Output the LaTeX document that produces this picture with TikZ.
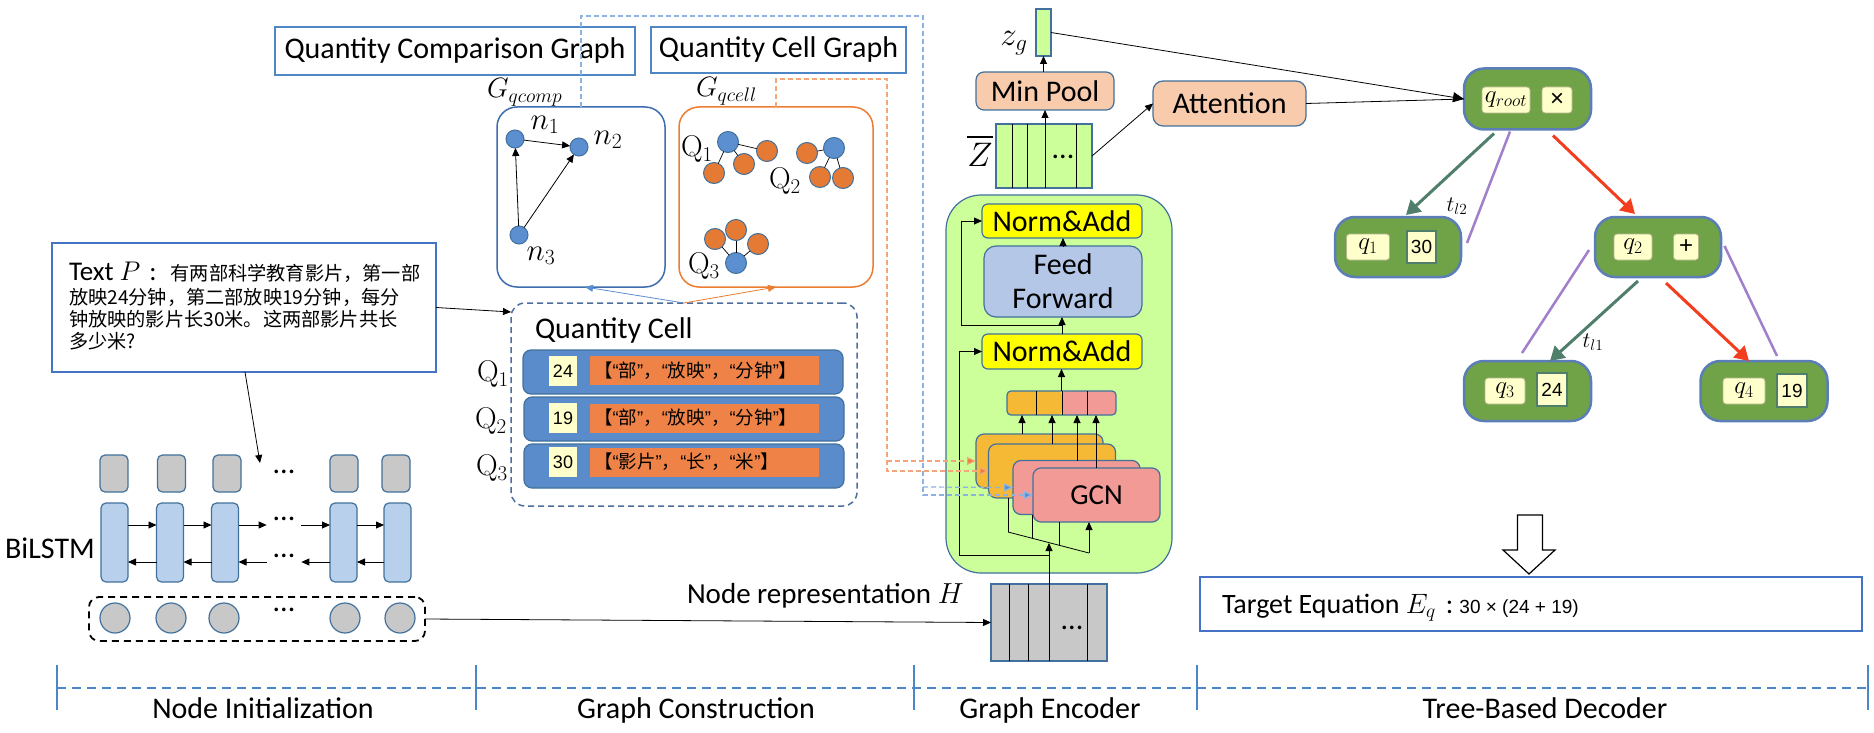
\RequirePackage{fix-cm}
\documentclass[tikz,border=0pt]{standalone}
\usepackage{fontspec}
\setmainfont{Carlito}
\newfontfamily\cjk{Noto Sans CJK SC}
\newfontfamily\arial{Liberation Sans}
\newfontfamily\lmr{Latin Modern Roman}
\usetikzlibrary{arrows.meta,calc}
\definecolor{lblue}{HTML}{4F86C6}
\definecolor{pblue}{HTML}{4472C4}
\definecolor{gblue}{HTML}{3D6DAF}
\definecolor{gorange}{HTML}{ED7D31}
\definecolor{bdr}{HTML}{41719C}
\definecolor{nblue}{HTML}{5B8FD0}
\definecolor{norange}{HTML}{E57A35}
\definecolor{cellbdr}{HTML}{4E6E9E}
\definecolor{rowfill}{HTML}{5A8BCB}
\definecolor{cellor}{HTML}{EF8347}
\definecolor{lyel}{HTML}{FFFFCC}
\definecolor{lstm}{HTML}{B8D0EC}
\definecolor{gry}{HTML}{C8C8C8}
\definecolor{encg}{HTML}{CCFF99}
\definecolor{peach}{HTML}{F8CBAD}
\definecolor{yel}{HTML}{FFFF00}
\definecolor{ffb}{HTML}{B4C7E7}
\definecolor{amber}{HTML}{F6B935}
\definecolor{pinkc}{HTML}{F29A95}
\definecolor{treeg}{HTML}{70A347}
\definecolor{treeb}{HTML}{5B7EB8}
\definecolor{tealc}{HTML}{4F7F6B}
\definecolor{redc}{HTML}{F23D1E}
\definecolor{purp}{HTML}{A07FCB}
\definecolor{dblue}{HTML}{8DB3E2}
\definecolor{dorange}{HTML}{F4A67A}
\definecolor{tline}{HTML}{4A86C8}
\definecolor{qbdr}{HTML}{B5B58A}
\newcommand\setfs[1]{\fontsize{#1}{#1}\selectfont}
\newcommand\oq{{\arial “}}
\newcommand\cq{{\arial ”}}
\newcommand\Qsub[1]{{\lmr Q}$_{#1}$}
\begin{document}
\begin{tikzpicture}[x=1pt,y=-1pt]
\tikzset{
  every node/.style={inner sep=0pt, outer sep=0pt},
  sz/.style 2 args={minimum width=#1, minimum height=#2},
  lbl/.style={font=\setfs{30}},
  arr/.style={line width=0.8pt, -{Triangle[length=8pt,width=7pt]}},
  lblbox/.style={draw=lblue, line width=1.5pt, font=\setfs{30}},
  bcirc/.style={circle, fill=nblue, draw=bdr, line width=1pt, minimum size=18pt},
  ocirc/.style={circle, fill=norange, draw=bdr, line width=1pt, minimum size=21pt},
  ql/.style={font=\setfs{30}},
  rowbox/.style={fill=rowfill, draw=bdr, line width=1.2pt, rounded corners=8pt, sz={320pt}{44pt}},
  numbox/.style={fill=lyel, font=\arial\setfs{18}, sz={28pt}{30pt}},
  orbox/.style={fill=cellor, sz={229pt}{29pt}, text width=221pt, inner xsep=4pt, align=left, font=\cjk\setfs{18.5}},
  cjkline/.style={anchor=base west, font=\cjk\setfs{19.2}},
  gtop/.style={fill=gry, draw=bdr, line width=1.2pt, rounded corners=5pt, sz={28pt}{37pt}},
  lstmbox/.style={fill=lstm, draw=bdr, line width=1.2pt, rounded corners=5pt, sz={27pt}{79pt}},
  gcirc/.style={circle, fill=gry, draw=bdr, line width=1.2pt, minimum size=30pt},
  dotsn/.style={font=\setfs{30}, inner xsep=6pt},
  encbox/.style={draw=bdr, line width=1.2pt},
  gcnor/.style={fill=amber, draw=bdr, line width=1.2pt, rounded corners=8pt, sz={127pt}{54pt}},
  gcnpk/.style={fill=pinkc, draw=bdr, line width=1.2pt, rounded corners=8pt, sz={127pt}{54pt}},
  bdash/.style={draw=dblue, line width=1.2pt, dash pattern=on 5pt off 3pt, -{Triangle[length=9pt,width=8pt,fill=nblue]}},
  odash/.style={draw=dorange, line width=1.2pt, dash pattern=on 5pt off 3pt, -{Triangle[length=9pt,width=8pt,fill=gorange]}},
  tnode/.style={fill=treeg, draw=treeb, line width=2.5pt, rounded corners=20pt, sz={127pt}{61pt}},
  qbox/.style={fill=lyel, draw=qbdr, line width=0.8pt, rounded corners=3pt, font=\setfs{25}},
  vbox/.style={fill=lyel, draw=tealc, line width=2.5pt, font=\arial\setfs{19}},
  tarrg/.style={draw=tealc, line width=3pt, -{Triangle[length=14pt,width=16pt]}},
  tarrr/.style={draw=redc, line width=3pt, -{Triangle[length=14pt,width=16pt]}},
  purl/.style={draw=purp, line width=2.5pt},
}
\fill[white] (0,0) rectangle (1874,733);
\useasboundingbox (0,0) rectangle (1874,733);

% ---------- Graph construction: top labels and graphs
\node[lblbox, sz={360pt}{48pt}] (qcgl) at (455,51) {Quantity Comparison Graph};
\node[lblbox, sz={255pt}{46pt}] (qcelll) at (778.5,50) {Quantity Cell Graph};

\node[draw=gblue, line width=1.5pt, rounded corners=20pt, sz={168pt}{180pt}] (gcomp) at (581,197) {};
\node[draw=gorange, line width=1.5pt, rounded corners=20pt, sz={194pt}{180pt}] (gcell) at (776,197) {};
\node[anchor=base west, font=\setfs{28}] (gcompl) at (487,98) {$G_{qcomp}$};
\node[anchor=base west, font=\setfs{28}] (gcelll) at (696,97) {$G_{qcell}$};

\node[bcirc] (n1) at (515,139) {};
\node[bcirc] (n2) at (579,147) {};
\node[bcirc] (n3) at (519,235) {};
\node[font=\setfs{31}] (n1l) at (545,125) {$n_1$};
\node[font=\setfs{31}] (n2l) at (608,140) {$n_2$};
\node[font=\setfs{31}] (n3l) at (541,256) {$n_3$};
\draw[arr] (n1) -- (n2);
\draw[arr] (n3) -- (n1);
\draw[arr] (n3) -- (n2);

\node[bcirc, minimum size=21pt] (c1b) at (728,142) {};
\node[ocirc] (c1a) at (767,151) {};
\node[ocirc] (c1c) at (744,164) {};
\node[ocirc] (c1d) at (714,173) {};
\node[bcirc, minimum size=21pt] (c2b) at (834,148) {};
\node[ocirc] (c2a) at (807,153) {};
\node[ocirc] (c2c) at (820,177) {};
\node[ocirc] (c2d) at (843,178) {};
\node[bcirc, minimum size=21pt] (c3b) at (736,263) {};
\node[ocirc] (c3a) at (715,239) {};
\node[ocirc] (c3c) at (736,230) {};
\node[ocirc] (c3d) at (758,244) {};
\foreach \b/\o in {c1b/c1a,c1b/c1c,c1b/c1d,c2b/c2a,c2b/c2c,c2b/c2d,c3b/c3a,c3b/c3c,c3b/c3d}
  \draw[line width=0.7pt] (\b) -- (\o);
\node[ql] (gq1) at (697,149) {\Qsub{1}};
\node[ql] (gq2) at (785,181) {\Qsub{2}};
\node[ql] (gq3) at (704,266) {\Qsub{3}};

% ---------- Quantity cell
\node[draw=cellbdr, line width=1.5pt, dash pattern=on 6pt off 4pt, rounded corners=14pt, sz={346pt}{203pt}] (qc) at (684,404.5) {};
\node[lbl, anchor=west] (qcl) at (535,330) {Quantity Cell};
\node[rowbox] (r1) at (683,372) {};
\node[rowbox] (r2) at (684,419) {};
\node[rowbox] (r3) at (684,466) {};
\node[numbox] (v1) at (563,371) {24};
\node[numbox] (v2) at (563,418) {19};
\node[numbox] (v3) at (563,462) {30};
\node[orbox] (o1) at (704.5,370.5) {【\oq 部\cq，\oq 放映\cq，\oq 分钟\cq】};
\node[orbox] (o2) at (704.5,418) {【\oq 部\cq，\oq 放映\cq，\oq 分钟\cq】};
\node[orbox] (o3) at (704.5,462) {【\oq 影片\cq，\oq 长\cq，\oq 米\cq】};
\node[ql] (q1l) at (493,374) {\Qsub{1}};
\node[ql] (q2l) at (491,421) {\Qsub{2}};
\node[ql] (q3l) at (492,468) {\Qsub{3}};
\draw[draw=nblue, line width=0.8pt, -{Triangle[length=8pt,width=7pt,fill=nblue]}] (qc.north) -- ([xshift=4pt]gcomp.south);
\draw[draw=gorange, line width=0.8pt, -{Triangle[length=8pt,width=7pt,fill=gorange]}] (qc.north) -- (gcell.south);

% ---------- Text P
\node[draw=pblue, line width=1.5pt, sz={384pt}{129pt}] (tp) at (244,307.5) {};
\node[anchor=base west, font=\setfs{27}] (tp1) at (69,280) {Text $P$\hspace{9pt}:\hspace{14pt}{\cjk\setfs{19.2}有两部科学教育影片，第一部}};
\node[cjkline] (tp2) at (69,304) {放映24分钟，第二部放映19分钟，每分};
\node[cjkline] (tp3) at (69,326) {钟放映的影片长30米。这两部影片共长};
\node[cjkline] (tp4) at (69,348) {多少米?};
\draw[arr] (tp.east) -- ([yshift=-9pt]qc.north west);
\coordinate (tpend) at (260,463);
\draw[arr] ([xshift=1pt]tp.south) -- (tpend);

% ---------- BiLSTM
\node[gtop] (g1) at (114,473.5) {};
\node[gtop] (g2) at (171.5,473.5) {};
\node[gtop] (g3) at (227,473.5) {};
\node[gtop] (g4) at (344,473.5) {};
\node[gtop] (g5) at (396,473.5) {};
\node[dotsn] (dT) at (284,472) {...};
\node[lstmbox] (l1) at (114.5,542.5) {};
\node[lstmbox] (l2) at (170,542.5) {};
\node[lstmbox] (l3) at (225,542.5) {};
\node[lstmbox] (l4) at (343.5,542.5) {};
\node[lstmbox] (l5) at (397.5,542.5) {};
\node[dotsn] (dF) at (284,519) {...};
\node[dotsn] (dB) at (284,556) {...};
\node[lbl] (bil) at (50,548) {BiLSTM};
\coordinate (fwd) at (0,525);
\coordinate (bwd) at (0,562);
\draw[arr] (l1.east |- fwd) -- (l2.west |- fwd);
\draw[arr] (l2.east |- fwd) -- (l3.west |- fwd);
\draw[arr] (l3.east |- fwd) -- (dF.west |- fwd);
\draw[arr] (dF.east |- fwd) -- (l4.west |- fwd);
\draw[arr] (l4.east |- fwd) -- (l5.west |- fwd);
\draw[arr] (l2.west |- bwd) -- (l1.east |- bwd);
\draw[arr] (l3.west |- bwd) -- (l2.east |- bwd);
\draw[arr] (dB.west |- bwd) -- (l3.east |- bwd);
\draw[arr] (l4.west |- bwd) -- (dB.east |- bwd);
\draw[arr] (l5.west |- bwd) -- (l4.east |- bwd);
\node[gcirc] (e1) at (115,618) {};
\node[gcirc] (e2) at (171,618) {};
\node[gcirc] (e3) at (224,618) {};
\node[gcirc] (e4) at (345,618) {};
\node[gcirc] (e5) at (400,618) {};
\node[dotsn] (dE) at (284,610) {...};
\node[draw=black, line width=1.8pt, dash pattern=on 7pt off 5pt, rounded corners=10pt, sz={336pt}{44pt}] (emb) at (257,619) {};

% ---------- Graph encoder
\node[encbox, fill=encg, rounded corners=35pt, sz={226pt}{378pt}] (enc) at (1059,384) {};
\node[fill=yel, draw=bdr, line width=1.2pt, rounded corners=6pt, sz={160pt}{34pt}, font=\setfs{30}] (na1) at (1062,221) {Norm\&Add};
\node[fill=ffb, draw=bdr, line width=1.2pt, rounded corners=12pt, sz={158pt}{71pt}, align=center, font=\fontsize{30}{34}\selectfont] (ff) at (1063,281.5) {Feed\\Forward};
\node[fill=yel, draw=bdr, line width=1.2pt, rounded corners=6pt, sz={160pt}{35pt}, font=\setfs{30}] (na2) at (1062,351.5) {Norm\&Add};
\node[draw=bdr, line width=1.2pt, rounded corners=4pt, sz={109pt}{24pt},
  path picture={\fill[amber] (path picture bounding box.south west) rectangle ([xshift=55pt]path picture bounding box.north west);
                \fill[pinkc] ([xshift=55pt]path picture bounding box.south west) rectangle (path picture bounding box.north east);}] (cat) at (1061.5,403) {};
\foreach \dx in {29,55,80}
  \draw[line width=1pt] ([xshift=\dx pt]cat.south west) -- ([xshift=\dx pt]cat.north west);
\node[gcnor] (gcn1) at (1039.5,461) {};
\node[gcnor] (gcn2) at (1052,471) {};
\node[gcnpk] (gcn3) at (1076.5,487.5) {};
\node[gcnpk, font=\setfs{29}] (gcn4) at (1096.5,495) {GCN};
\draw[arr] ([xshift=-17.5pt]gcn1.north) -- ([xshift=-17.5pt]gcn1.north |- cat.south);
\draw[arr] (gcn2.north) -- (gcn2.north |- cat.south);
\draw[arr] ([xshift=0.5pt]gcn3.north) -- ([xshift=0.5pt]gcn3.north |- cat.south);
\draw[arr] ([xshift=-0.5pt]gcn4.north) -- ([xshift=-0.5pt]gcn4.north |- cat.south);
\draw[arr] (cat.north) -- (cat.north |- na2.south);
\draw[arr] (na2.north) -- (na2.north |- ff.south);
\draw[arr] (ff.north) -- (ff.north |- na1.south);
\draw[arr] ([yshift=-8pt]ff.south) -- ++(-102pt,0) |- (na1.west);

% node representation H
\node[fill=gry, draw=bdr, line width=1.2pt, sz={116pt}{77pt}] (hbox) at (1049,622.5) {};
\foreach \dx in {18,37,58,96}
  \draw[line width=1pt] ([xshift=\dx pt]hbox.south west) -- ([xshift=\dx pt]hbox.north west);
\node[dotsn] (dH) at (1072,628) {...};
\node[anchor=base west, font=\setfs{29}] (hlbl) at (687,603) {Node representation $H$};
\draw[arr] (emb.east) -- (hbox.west);
\coordinate (busL) at (1008,532);
\coordinate (busR) at (1089,553);
\coordinate (bus2) at ($(busL)!0.296!(busR)$);
\coordinate (bus3) at ($(busL)!0.63!(busR)$);
\draw[line width=0.8pt] (busL) -- (busR);
\draw[line width=0.8pt] (busL) -- (busL |- gcn2.south);
\draw[line width=0.8pt] (bus2) -- (bus2 |- gcn3.south);
\draw[line width=0.8pt] (bus3) -- (bus3 |- gcn4.south);
\draw[arr] (busR) -- (busR |- gcn4.south);
\draw[arr] (hbox.north) -- (hbox.north |- 0,543);
\draw[arr] ([yshift=29pt]hbox.north) -- ++(-90pt,0) |- (na2.west);

% dashed graph inputs
\coordinate (bj) at (923,487);
\coordinate (oj) at (887,461);
\draw[bdash] (gcomp.north) |- (923,16) |- (gcn4.west);
\draw[bdash] (bj) -- (gcn3.west);
\draw[odash] (gcell.north) |- (887,79) |- (gcn2.west);
\draw[odash] (oj) -- (gcn1.west);

% Z bar, pooling, attention
\node[fill=encg, draw=bdr, line width=1.2pt, sz={96pt}{64pt}] (zbar) at (1044,156) {};
\foreach \dx in {16,31,49,80}
  \draw[line width=1pt] ([xshift=\dx pt]zbar.south west) -- ([xshift=\dx pt]zbar.north west);
\node[dotsn] (dZ) at (1063,157) {...};
\node[font=\setfs{34}] (zbl) at (980,151) {\vbox{\hrule height 2.4pt\vskip 5pt\hbox{$Z$}}};
\node[fill=peach, draw=bdr, line width=1.2pt, rounded corners=8pt, sz={138pt}{38pt}, font=\setfs{30}] (mp) at (1045,91) {Min Pool};
\node[fill=encg, draw=bdr, line width=1.2pt, sz={15pt}{47pt}] (zg) at (1043.5,32.5) {};
\node[font=\setfs{33}] (zgl) at (1014,43) {$z_g$};
\node[fill=peach, draw=bdr, line width=1.2pt, rounded corners=10pt, sz={153pt}{45pt}, font=\setfs{30}] (att) at (1229.5,103.5) {Attention};
\draw[arr] (zbar.north -| mp.south) -- (mp.south);
\draw[arr] (zg.south |- mp.north) -- (zg.south);
\draw[arr] (zbar.east) -- (att.west);

% ---------- Tree decoder
\node[tnode] (root) at (1527.5,99) {};
\node[qbox, sz={48pt}{26pt}] (qr) at (1506,100) {$q_{root}$};
\node[qbox, sz={30pt}{26pt}, font=\arial\setfs{24}] (opm) at (1557,100) {×};
\node[tnode, sz={126pt}{60pt}] (q1n) at (1398,247) {};
\node[qbox, sz={43pt}{26pt}] (q1b) at (1368,247) {$q_1$};
\node[vbox, sz={29pt}{32pt}] (q1v) at (1421.5,247) {30};
\node[tnode, sz={126pt}{60pt}] (q2n) at (1658,247) {};
\node[qbox, sz={38pt}{26pt}] (q2b) at (1633,247) {$q_2$};
\node[qbox, sz={25pt}{26pt}, font=\arial\setfs{24}] (opp) at (1686,247) {+};
\node[tnode, sz={127pt}{60pt}] (q3n) at (1527.5,391) {};
\node[qbox, sz={40pt}{26pt}] (q3b) at (1505,391) {$q_3$};
\node[vbox, sz={30pt}{33pt}] (q3v) at (1552,389.5) {24};
\node[tnode, sz={127pt}{60pt}] (q4n) at (1764,391) {};
\node[qbox, sz={42pt}{26pt}] (q4b) at (1744,391) {$q_4$};
\node[vbox, sz={30pt}{33pt}] (q4v) at (1792,390.5) {19};
\draw[line width=0.8pt] (att.east) -- (root.west);
\draw[line width=0.8pt, -{Triangle[length=11pt,width=10pt]}] (zg.east) -- (root.west);
\draw[tarrg] ([xshift=-33.5pt,yshift=-4pt]root.south) -- ([xshift=8pt,yshift=2pt]q1n.north);
\draw[tarrr] ([xshift=25.5pt,yshift=-6pt]root.south) -- ([xshift=-23pt,yshift=3pt]q2n.north);
\draw[tarrg] ([xshift=-20pt,yshift=-4pt]q2n.south) -- ([xshift=22.5pt]q3n.north);
\draw[tarrr] ([xshift=8pt,yshift=-6pt]q2n.south) -- ([xshift=-15pt]q4n.north);
\draw[purl] ([xshift=-17.5pt,yshift=-2pt]root.south) -- ([xshift=6pt,yshift=4pt]q1n.east);
\draw[purl] ([xshift=-6pt,yshift=-3pt]q2n.west) -- ([xshift=-5.5pt,yshift=8pt]q3n.north);
\draw[purl] ([xshift=3.5pt,yshift=1pt]q2n.east) -- ([xshift=13pt,yshift=5pt]q4n.north);
\node[font=\setfs{22}] (tl2) at (1457,206) {$t_{l2}$};
\node[font=\setfs{22}] (tl1) at (1593,342) {$t_{l1}$};

% hollow arrow and target equation
\draw[line width=1.2pt, fill=white] (1517.5,515) -- (1542.5,515) -- (1542.5,550) -- (1555,550) -- (1529,574) -- (1503,550) -- (1517.5,550) -- cycle;
\node[draw=pblue, line width=1.5pt, sz={662pt}{54pt}] (teq) at (1531,604) {};
\node[anchor=base west, font=\setfs{28}] (teqt) at (1222,613) {Target Equation $E_q$\hspace{10pt}:\hspace{6pt}{\arial\setfs{19}30 × (24 + 19)}};

% ---------- timeline
\draw[tline, line width=1.8pt, dash pattern=on 9pt off 6pt] (57,688) -- (1868,688);
\foreach \x in {57,476,914,1197,1868}
  \draw[tline, line width=1.8pt] (\x,665) -- (\x,710);
\node[lbl, anchor=base] (ph1) at (263,718) {Node Initialization};
\node[lbl, anchor=base] (ph2) at (696,718) {Graph Construction};
\node[lbl, anchor=base] (ph3) at (1050,718) {Graph Encoder};
\node[lbl, anchor=base] (ph4) at (1545,718) {Tree-Based Decoder};
\end{tikzpicture}
\end{document}
